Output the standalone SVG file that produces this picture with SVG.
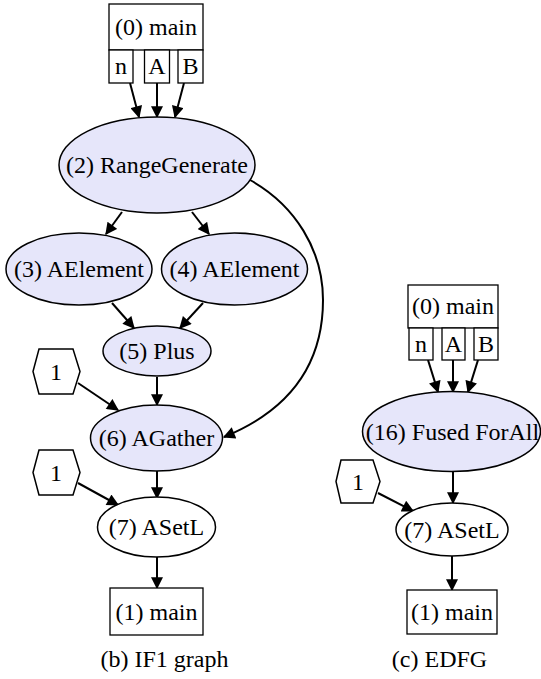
<svg xmlns="http://www.w3.org/2000/svg" width="541" height="679" viewBox="0 0 541 679" font-family="'Liberation Serif', 'Times New Roman', 'DejaVu Serif', serif">
<style>
text{font-family:'Liberation Serif','Times New Roman','DejaVu Serif',serif;font-size:24px;fill:#000;text-anchor:middle}
.op{fill:#e6e6fa;stroke:#000;stroke-width:1.5}
.wh{fill:#fff;stroke:#000;stroke-width:1.5}
.bx{fill:#fff;stroke:#000;stroke-width:1.3}
.e{fill:none;stroke:#000;stroke-width:2;marker-end:url(#ah)}
</style>
<defs>
<marker id="ah" viewBox="0 0 10 10" refX="9" refY="5" markerWidth="13" markerHeight="12" markerUnits="userSpaceOnUse" orient="auto">
<path d="M0,0 L10,5 L0,10 z" fill="#000"/>
</marker>
</defs>
<rect width="541" height="679" fill="#fff"/>
<g id="connectors">
<line class="e" x1="130" y1="83" x2="139" y2="117"/>
<line class="e" x1="157" y1="83" x2="157" y2="117"/>
<line class="e" x1="184" y1="83" x2="175" y2="117"/>
<line class="e" x1="122" y1="212" x2="106" y2="234"/>
<line class="e" x1="192" y1="212" x2="209" y2="234"/>
<line class="e" x1="112" y1="303" x2="134" y2="328"/>
<line class="e" x1="203" y1="303" x2="180" y2="328"/>
<line class="e" x1="78" y1="383" x2="118" y2="410"/>
<line class="e" x1="157" y1="377" x2="157" y2="405"/>
<path class="e" d="M250,180 C295,205 323,250 323,300 C323,368 285,412 224,437"/>
<line class="e" x1="157" y1="471" x2="157" y2="498"/>
<line class="e" x1="78" y1="483" x2="118" y2="505"/>
<line class="e" x1="157" y1="557" x2="157" y2="588"/>
<line class="e" x1="428" y1="360" x2="438" y2="392"/>
<line class="e" x1="453" y1="360" x2="453" y2="392"/>
<line class="e" x1="478" y1="360" x2="468" y2="392"/>
<line class="e" x1="453" y1="471" x2="453" y2="503"/>
<line class="e" x1="378" y1="493" x2="413" y2="511"/>
<line class="e" x1="452" y1="556" x2="452" y2="590"/>
</g>
<g id="b_main0">
<rect class="bx" x="109" y="4" width="94" height="46"/>
<rect class="bx" x="109" y="50" width="24" height="33"/>
<rect class="bx" x="144.5" y="50" width="25" height="33"/>
<rect class="bx" x="178" y="50" width="25" height="33"/>
<text x="156" y="35">(0) main</text>
<text x="121" y="74">n</text>
<text x="157" y="74">A</text>
<text x="190.5" y="74">B</text>
</g>
<g id="b_range">
<ellipse class="op" cx="157" cy="165" rx="98" ry="48"/>
<text x="157" y="173">(2) RangeGenerate</text>
</g>
<g id="b_ae3">
<ellipse class="op" cx="79" cy="269" rx="73" ry="36"/>
<text x="79" y="277">(3) AElement</text>
</g>
<g id="b_ae4">
<ellipse class="op" cx="234.5" cy="269" rx="73" ry="36"/>
<text x="234.5" y="277">(4) AElement</text>
</g>
<g id="b_plus">
<ellipse class="op" cx="157" cy="351" rx="54" ry="25"/>
<text x="157" y="359">(5) Plus</text>
</g>
<g id="b_hex1">
<polygon class="wh" points="33,371.5 39,349 73,349 80,371.5 73,394 39,394"/>
<text x="56" y="380">1</text>
</g>
<g id="b_agather">
<ellipse class="op" cx="156.5" cy="438" rx="66" ry="33"/>
<text x="156.5" y="446">(6) AGather</text>
</g>
<g id="b_hex2">
<polygon class="wh" points="33,472.5 39,450 73,450 80,472.5 73,495 39,495"/>
<text x="56" y="481">1</text>
</g>
<g id="b_asetl">
<ellipse class="wh" cx="156.5" cy="527" rx="59" ry="30"/>
<text x="156.5" y="535">(7) ASetL</text>
</g>
<g id="b_main1">
<rect class="bx" x="110" y="588" width="93" height="47"/>
<text x="156.5" y="620">(1) main</text>
</g>
<text x="164.5" y="667">(b) IF1 graph</text>
<g id="c_main0">
<rect class="bx" x="408" y="285" width="90" height="43"/>
<rect class="bx" x="409" y="328" width="24" height="32"/>
<rect class="bx" x="442" y="328" width="23" height="32"/>
<rect class="bx" x="474" y="328" width="24" height="32"/>
<text x="453" y="314">(0) main</text>
<text x="421" y="352">n</text>
<text x="453.5" y="352">A</text>
<text x="486" y="352">B</text>
</g>
<g id="c_fused">
<ellipse class="op" cx="451.5" cy="431.5" rx="89" ry="40"/>
<text x="452.5" y="440">(16) Fused ForAll</text>
</g>
<g id="c_hex">
<polygon class="wh" points="336,481.5 341,460 373,460 380,481.5 373,503 341,503"/>
<text x="358" y="490">1</text>
</g>
<g id="c_asetl">
<ellipse class="wh" cx="452" cy="529.5" rx="56" ry="26.5"/>
<text x="452" y="538">(7) ASetL</text>
</g>
<g id="c_main1">
<rect class="bx" x="407" y="590" width="90" height="44"/>
<text x="452" y="620">(1) main</text>
</g>
<text x="439.5" y="667">(c) EDFG</text>
</svg>
